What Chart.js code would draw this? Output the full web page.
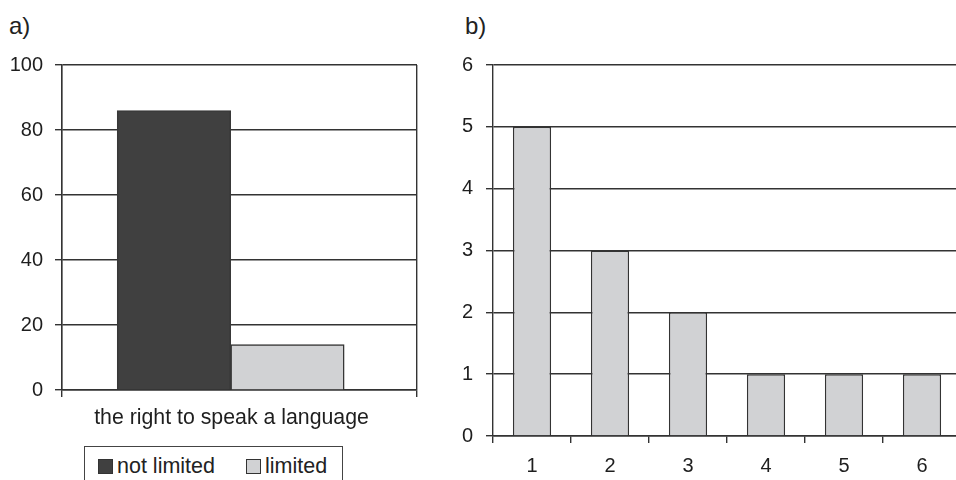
<!DOCTYPE html>
<html>
<head>
<meta charset="utf-8">
<script src="https://cdn.jsdelivr.net/npm/chart.js@4.4.1/dist/chart.umd.min.js"></script>
<style>
  html, body { margin: 0; padding: 0; background: #fff; }
  body { width: 956px; height: 480px; position: relative; overflow: hidden;
         font-family: "Liberation Sans", Arial, sans-serif; color: #222; }
  .panel-tag { position: absolute; font-size: 24px; line-height: 1; }
  #boxA { position: absolute; left: 0; top: 0; width: 420px; height: 440px; }
  #boxB { position: absolute; left: 440px; top: 0; width: 528px; height: 480px; }
  #legendA { position: absolute; left: 84px; top: 446px; width: 259px; height: 40px;
             border: 1.5px solid #444; box-sizing: border-box; font-size: 21.5px; }
  #legendA .item { position: absolute; top: 8px; line-height: 22px; white-space: nowrap; }
  #legendA .sw { display: inline-block; width: 15px; height: 15px; border: 1px solid #333;
                 vertical-align: -1px; margin-right: 4px; box-sizing: border-box; }
</style>
</head>
<body>
<div class="panel-tag" style="left:9px; top:14px;">a)</div>
<div class="panel-tag" style="left:465px; top:14px;">b)</div>
<div id="boxA"><canvas id="chartA" width="420" height="440"></canvas></div>
<div id="boxB"><canvas id="chartB" width="528" height="480"></canvas></div>
<div id="legendA"></div>

<script>
// Panel a): share of answers about the right to speak a language
const categoryA = ['the right to speak a language'];
const seriesNamesA = ['not limited', 'limited'];
const notLimitedA = [86];
const limitedA = [14];
const ticksA = [0, 20, 40, 60, 80, 100];

// Panel b): frequency counts
const categoriesB = ['1', '2', '3', '4', '5', '6'];
const countsB = [5, 3, 2, 1, 1, 1];
const ticksB = [0, 1, 2, 3, 4, 5, 6];

const DARK = '#404040';
const LIGHT = '#d1d2d4';
const LINE = '#333';
const TEXT = '#1e1e1e';
const FONT = { family: '"Liberation Sans", Arial, sans-serif', size: 20 };
const CAT_FONT = { family: '"Liberation Sans", Arial, sans-serif', size: 21.3 };

Chart.defaults.font = FONT;
Chart.defaults.color = TEXT;

function fixWidth(w) { return s => { s.width = w; }; }
function fixHeight(h) { return s => { s.height = h; }; }

new Chart(document.getElementById('chartA'), {
  type: 'bar',
  data: {
    labels: categoryA,
    datasets: [
      { label: seriesNamesA[0], data: notLimitedA.map((v, i) => ({ x: i, y: v })),
        backgroundColor: DARK, borderColor: '#383838', borderWidth: 1.5, xAxisID: 'xb' },
      { label: seriesNamesA[1], data: limitedA.map((v, i) => ({ x: i, y: v })),
        backgroundColor: LIGHT, borderColor: LINE, borderWidth: 1.5, xAxisID: 'xb' }
    ]
  },
  options: {
    responsive: false,
    animation: false,
    events: [],
    barThickness: 113.5,
    layout: { padding: { top: 65, right: 3, left: 0, bottom: 0 } },
    plugins: { legend: { display: false }, tooltip: { enabled: false } },
    scales: {
      x: {
        type: 'category',
        offset: true,
        afterFit: fixHeight(50),
        grid: { drawOnChartArea: true, drawTicks: true, tickLength: 7, color: LINE, lineWidth: 1.4, offset: true },
        border: { display: true, color: LINE, width: 1.4 },
        ticks: { padding: 8, labelOffset: -8, color: TEXT, font: CAT_FONT }
      },
      xb: {
        type: 'linear',
        display: false,
        min: -0.469,
        max: 0.531
      },
      y: {
        min: 0, max: 100,
        afterFit: fixWidth(62),
        afterBuildTicks: s => { s.ticks = ticksA.map(v => ({ value: v })); },
        grid: { color: LINE, lineWidth: 1.4, tickLength: 7 },
        border: { display: true, color: LINE, width: 1.4 },
        ticks: { padding: 12, color: TEXT, font: FONT }
      }
    }
  }
});

// HTML legend for panel a), built from the dataset names and colours
(function () {
  const box = document.getElementById('legendA');
  const cols = [DARK, LIGHT];
  const lefts = [13, 161];
  seriesNamesA.forEach((name, i) => {
    const it = document.createElement('span');
    it.className = 'item';
    it.style.left = lefts[i] + 'px';
    const sw = document.createElement('span');
    sw.className = 'sw';
    sw.style.background = cols[i];
    it.appendChild(sw);
    it.appendChild(document.createTextNode(name));
    box.appendChild(it);
  });
})();

new Chart(document.getElementById('chartB'), {
  type: 'bar',
  data: {
    labels: categoriesB,
    datasets: [
      { label: 'count', data: countsB, backgroundColor: LIGHT, borderColor: LINE, borderWidth: 1.5,
        categoryPercentage: 1, barPercentage: 0.49 }
    ]
  },
  options: {
    responsive: false,
    animation: false,
    events: [],
    layout: { padding: { top: 65, right: 7, left: 0, bottom: 0 } },
    plugins: { legend: { display: false }, tooltip: { enabled: false } },
    scales: {
      x: {
        offset: true,
        afterFit: fixHeight(44),
        grid: { drawOnChartArea: false, drawTicks: true, tickLength: 7, color: LINE, lineWidth: 1.4, offset: true },
        border: { display: true, color: LINE, width: 1.4 },
        ticks: { padding: 11, color: TEXT, font: FONT }
      },
      y: {
        min: 0, max: 6,
        afterFit: fixWidth(53),
        afterBuildTicks: s => { s.ticks = ticksB.map(v => ({ value: v })); },
        grid: { color: LINE, lineWidth: 1.4, tickLength: 7 },
        border: { display: true, color: LINE, width: 1.4 },
        ticks: { padding: 13, color: TEXT, font: FONT }
      }
    }
  }
});
</script>
</body>
</html>
